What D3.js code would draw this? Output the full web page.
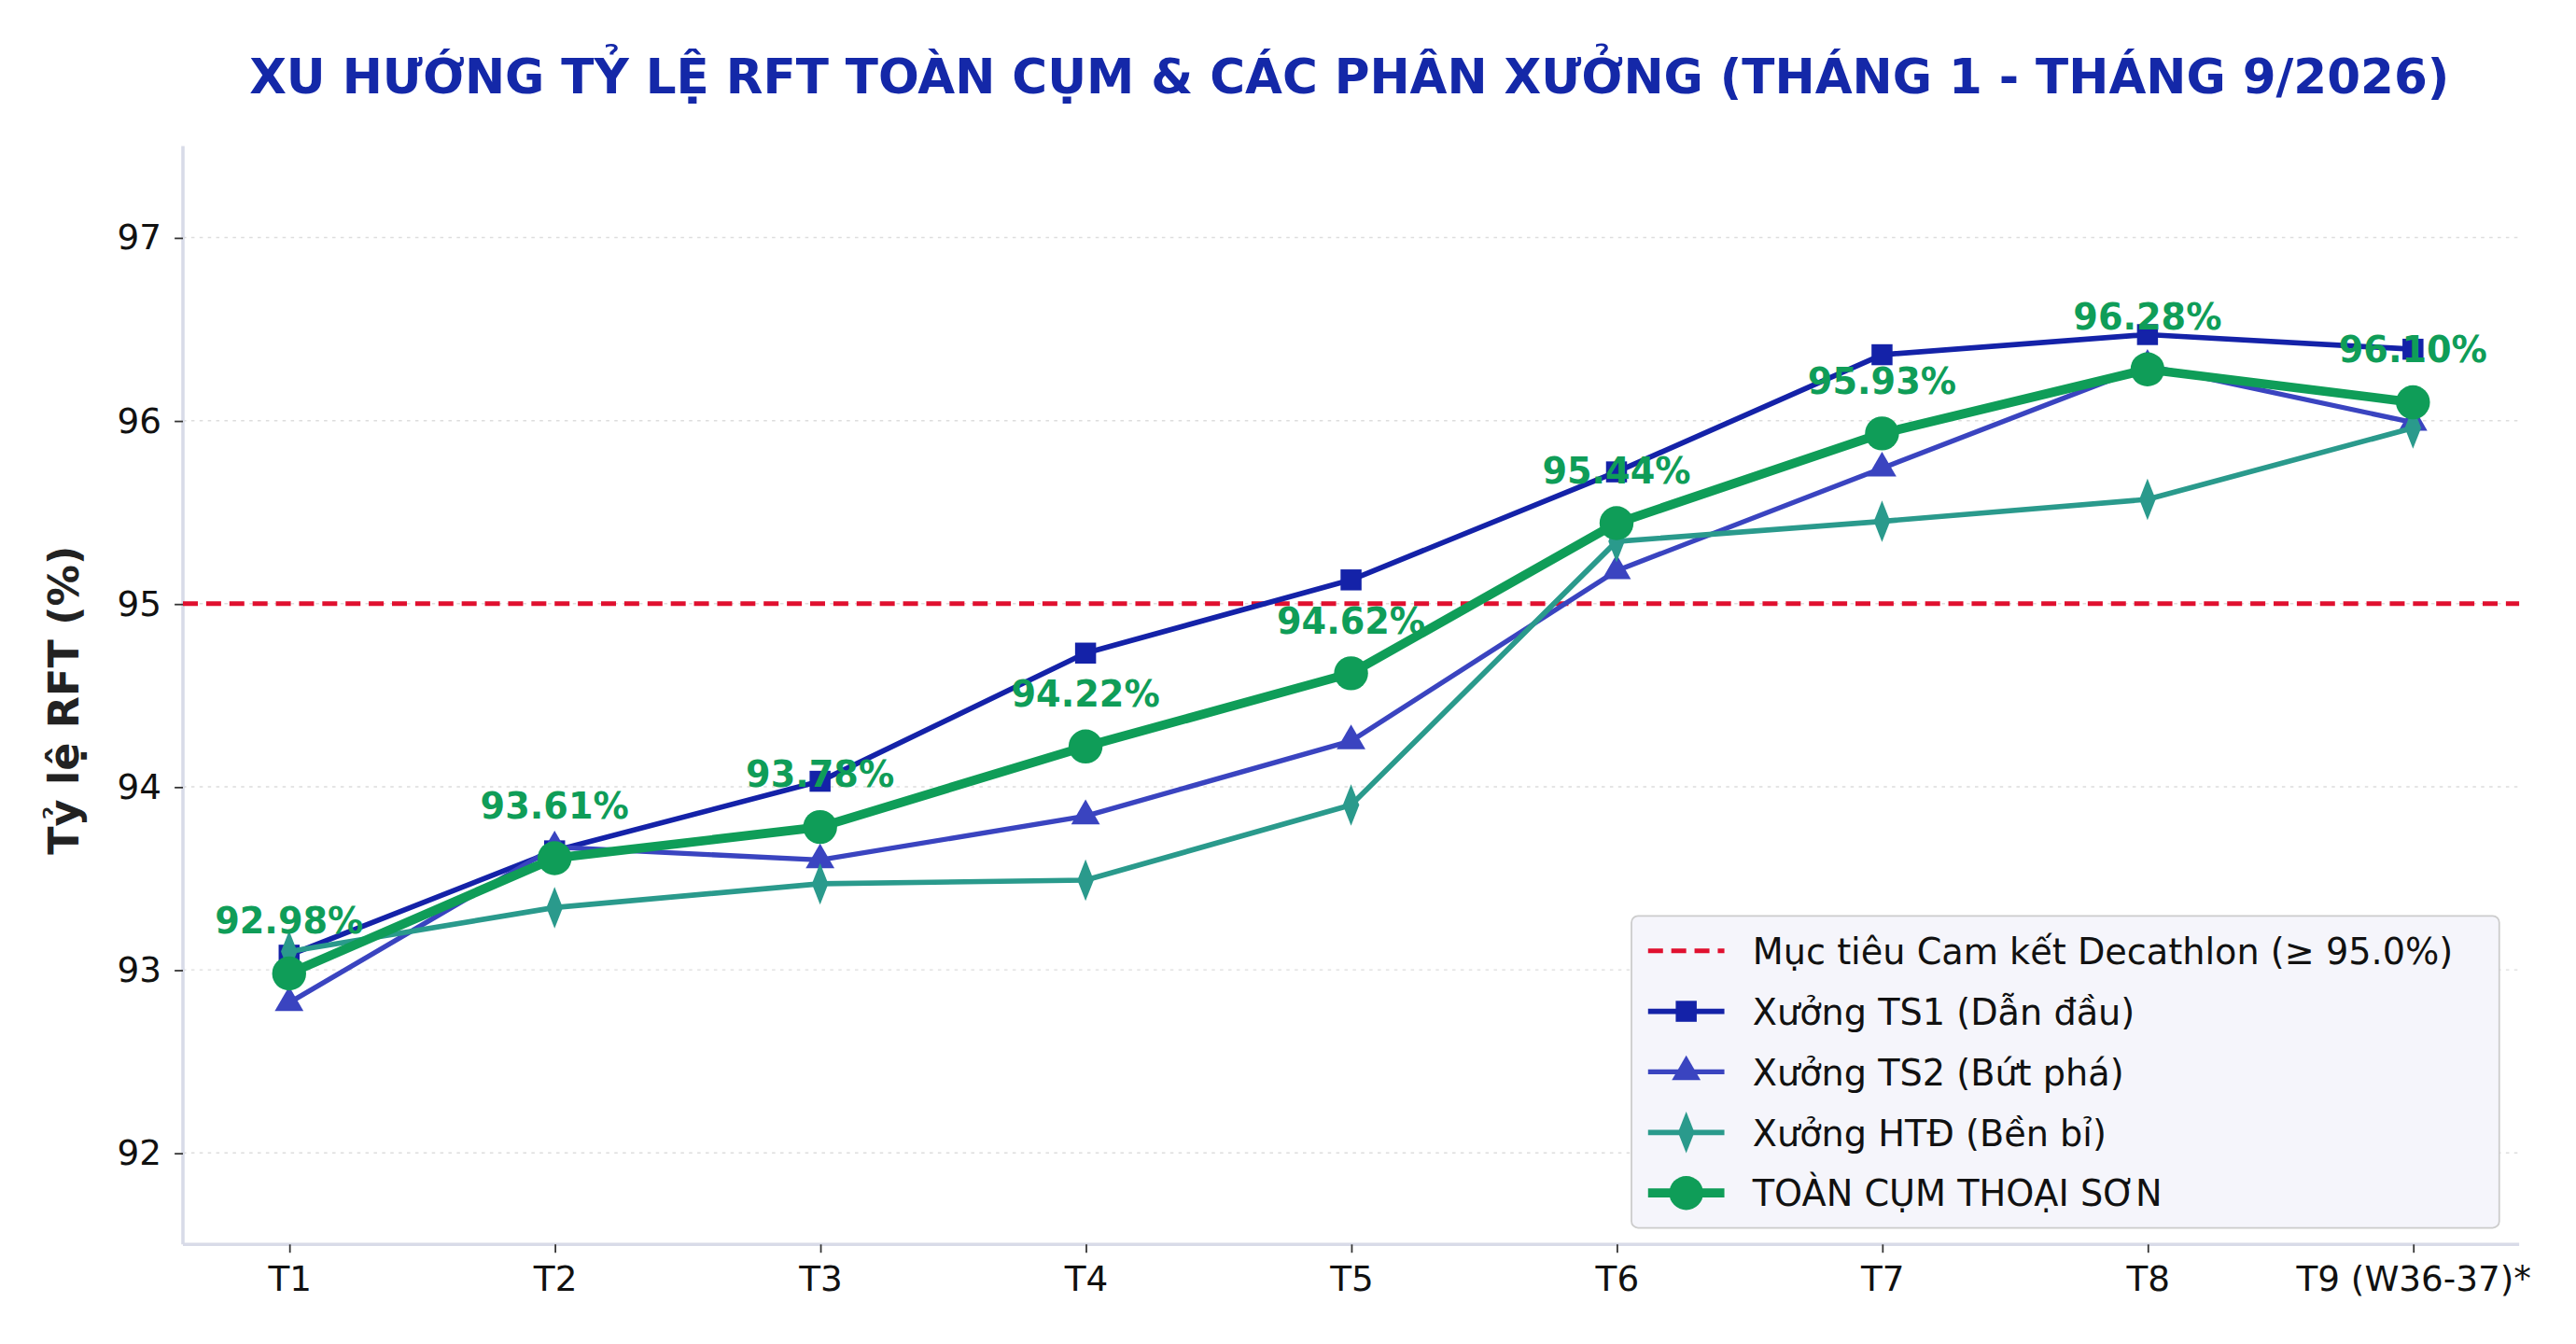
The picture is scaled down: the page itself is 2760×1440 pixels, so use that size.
<!DOCTYPE html>
<html><head><meta charset="utf-8">
<script src="https://cdn.jsdelivr.net/npm/d3@7"></script>
<style>body{margin:0;background:#fff}svg{font-family:"DejaVu Sans",sans-serif}</style>
</head><body>
<svg id="c" width="2760" height="1440" viewBox="0 0 1552 810"></svg>
<script>
const months = ["T1","T2","T3","T4","T5","T6","T7","T8","T9 (W36-37)*"];
const ts1 = [93.08,93.65,94.03,94.73,95.13,95.72,96.36,96.47,96.39];
const ts2 = [92.82,93.67,93.60,93.84,94.25,95.18,95.74,96.30,95.99];
const htd = [93.10,93.34,93.47,93.49,93.90,95.34,95.45,95.57,95.96];
const total = [92.98,93.61,93.78,94.22,94.62,95.44,95.93,96.28,96.10];
const target = 95.0;
const yTicks = [92,93,94,95,96,97];

const margin = {top: 88, right: 34, bottom: 60, left: 110};
const W = 1552, H = 810;
const svg = d3.select("#c");

const x = d3.scalePoint().domain(months).range([margin.left, W - margin.right]).padding(0.4);
const y = d3.scaleLinear().domain([91.5, 97.5]).range([H - margin.bottom, margin.top]);

svg.append("text").attr("x", 813).attr("y", 56)
  .attr("text-anchor", "middle").attr("font-size", 29).attr("font-weight", "bold")
  .attr("fill", "#1428a8").text("XU HƯỚNG TỶ LỆ RFT TOÀN CỤM & CÁC PHÂN XƯỞNG (THÁNG 1 - THÁNG 9/2026)");

// grid
svg.append("g").selectAll("line").data(yTicks).join("line")
  .attr("x1", margin.left).attr("x2", W - margin.right)
  .attr("y1", d => y(d)).attr("y2", d => y(d))
  .attr("stroke", "#ddd").attr("stroke-dasharray", "2,3").attr("stroke-width", 0.8);

const ya = svg.append("g").attr("transform", `translate(${margin.left},0)`)
  .call(d3.axisLeft(y).tickValues(yTicks).tickFormat(d3.format("d")).tickSize(5).tickPadding(8));
const xa = svg.append("g").attr("transform", `translate(0,${H - margin.bottom})`)
  .call(d3.axisBottom(x).tickSize(5).tickPadding(8));
[ya, xa].forEach(a => {
  a.selectAll("text").attr("font-size", 21).attr("fill", "#111").attr("font-family", "DejaVu Sans");
  a.selectAll("line").attr("stroke", "#333");
  a.select(".domain").attr("stroke", "#d8dbe8").attr("stroke-width", 2);
});
xa.select(".domain").attr("d", `M${margin.left},0H${W - margin.right}`);
ya.select(".domain").attr("d", `M0,${margin.top}V${H - margin.bottom}`);

svg.append("text").attr("transform", `translate(47,${(margin.top + H - margin.bottom) / 2 + 3}) rotate(-90)`)
  .attr("text-anchor", "middle").attr("font-size", 25).attr("font-weight", "bold").attr("fill", "#222")
  .text("Tỷ lệ RFT (%)");

svg.append("line").attr("x1", margin.left).attr("x2", W - margin.right)
  .attr("y1", y(target)).attr("y2", y(target))
  .attr("stroke", "#e0102f").attr("stroke-width", 2.8).attr("stroke-dasharray", "9,5");

const line = d3.line().x((d, i) => x(months[i])).y(d => y(d));
const series = [
  {name: "Xưởng TS1 (Dẫn đầu)", data: ts1, color: "#1422a8", w: 3.2, sym: d3.symbolSquare, size: 160},
  {name: "Xưởng TS2 (Bứt phá)", data: ts2, color: "#3a44c0", w: 3, sym: d3.symbolTriangle, size: 130},
  {name: "Xưởng HTĐ (Bền bỉ)", data: htd, color: "#2a9a8c", w: 3.2, size: 150, diamond: true},
  {name: "TOÀN CỤM THOẠI SƠN", data: total, color: "#0f9d58", w: 5.5, sym: d3.symbolCircle, size: 330}
];
function marker(g, s) {
  if (s.diamond) return g.append("path").attr("d", d3.symbol(d3.symbolDiamond, s.size)()).attr("transform", "scale(0.75,1.1)");
  return g.append("path").attr("d", d3.symbol(s.sym, s.size)());
}
series.forEach(s => {
  svg.append("path").datum(s.data).attr("d", line).attr("fill", "none")
    .attr("stroke", s.color).attr("stroke-width", s.w).attr("stroke-linejoin", "round");
  s.data.forEach((v, i) => {
    const g = svg.append("g").attr("transform", `translate(${x(months[i])},${y(v)})`).attr("fill", s.color);
    marker(g, s);
  });
});
total.forEach((v, i) => {
  svg.append("text").attr("x", x(months[i])).attr("y", y(v) - 24).attr("text-anchor", "middle")
    .attr("font-size", 21.5).attr("font-weight", "bold").attr("fill", "#0f9d58").text(v.toFixed(2) + "%");
});

// legend
const lg = svg.append("g").attr("transform", "translate(983,552)");
lg.append("rect").attr("width", 523).attr("height", 188).attr("rx", 4)
  .attr("fill", "#f5f5fb").attr("stroke", "#ccc");
const items = [{name: "Mục tiêu Cam kết Decathlon (≥ 95.0%)", color: "#e0102f", dash: true}].concat(series);
items.forEach((s, i) => {
  const g = lg.append("g").attr("transform", `translate(10,${21 + i * 36.5})`);
  g.append("line").attr("x1", 0).attr("x2", 46).attr("stroke", s.color)
    .attr("stroke-width", s.dash ? 2.8 : s.w).attr("stroke-dasharray", s.dash ? "9,5" : null);
  if (!s.dash) marker(g.append("g").attr("transform", "translate(23,0)").attr("fill", s.color), s);
  g.append("text").attr("x", 63).attr("y", 8).attr("font-size", 21.5).attr("fill", "#111").text(s.name);
});
</script>
</body></html>
